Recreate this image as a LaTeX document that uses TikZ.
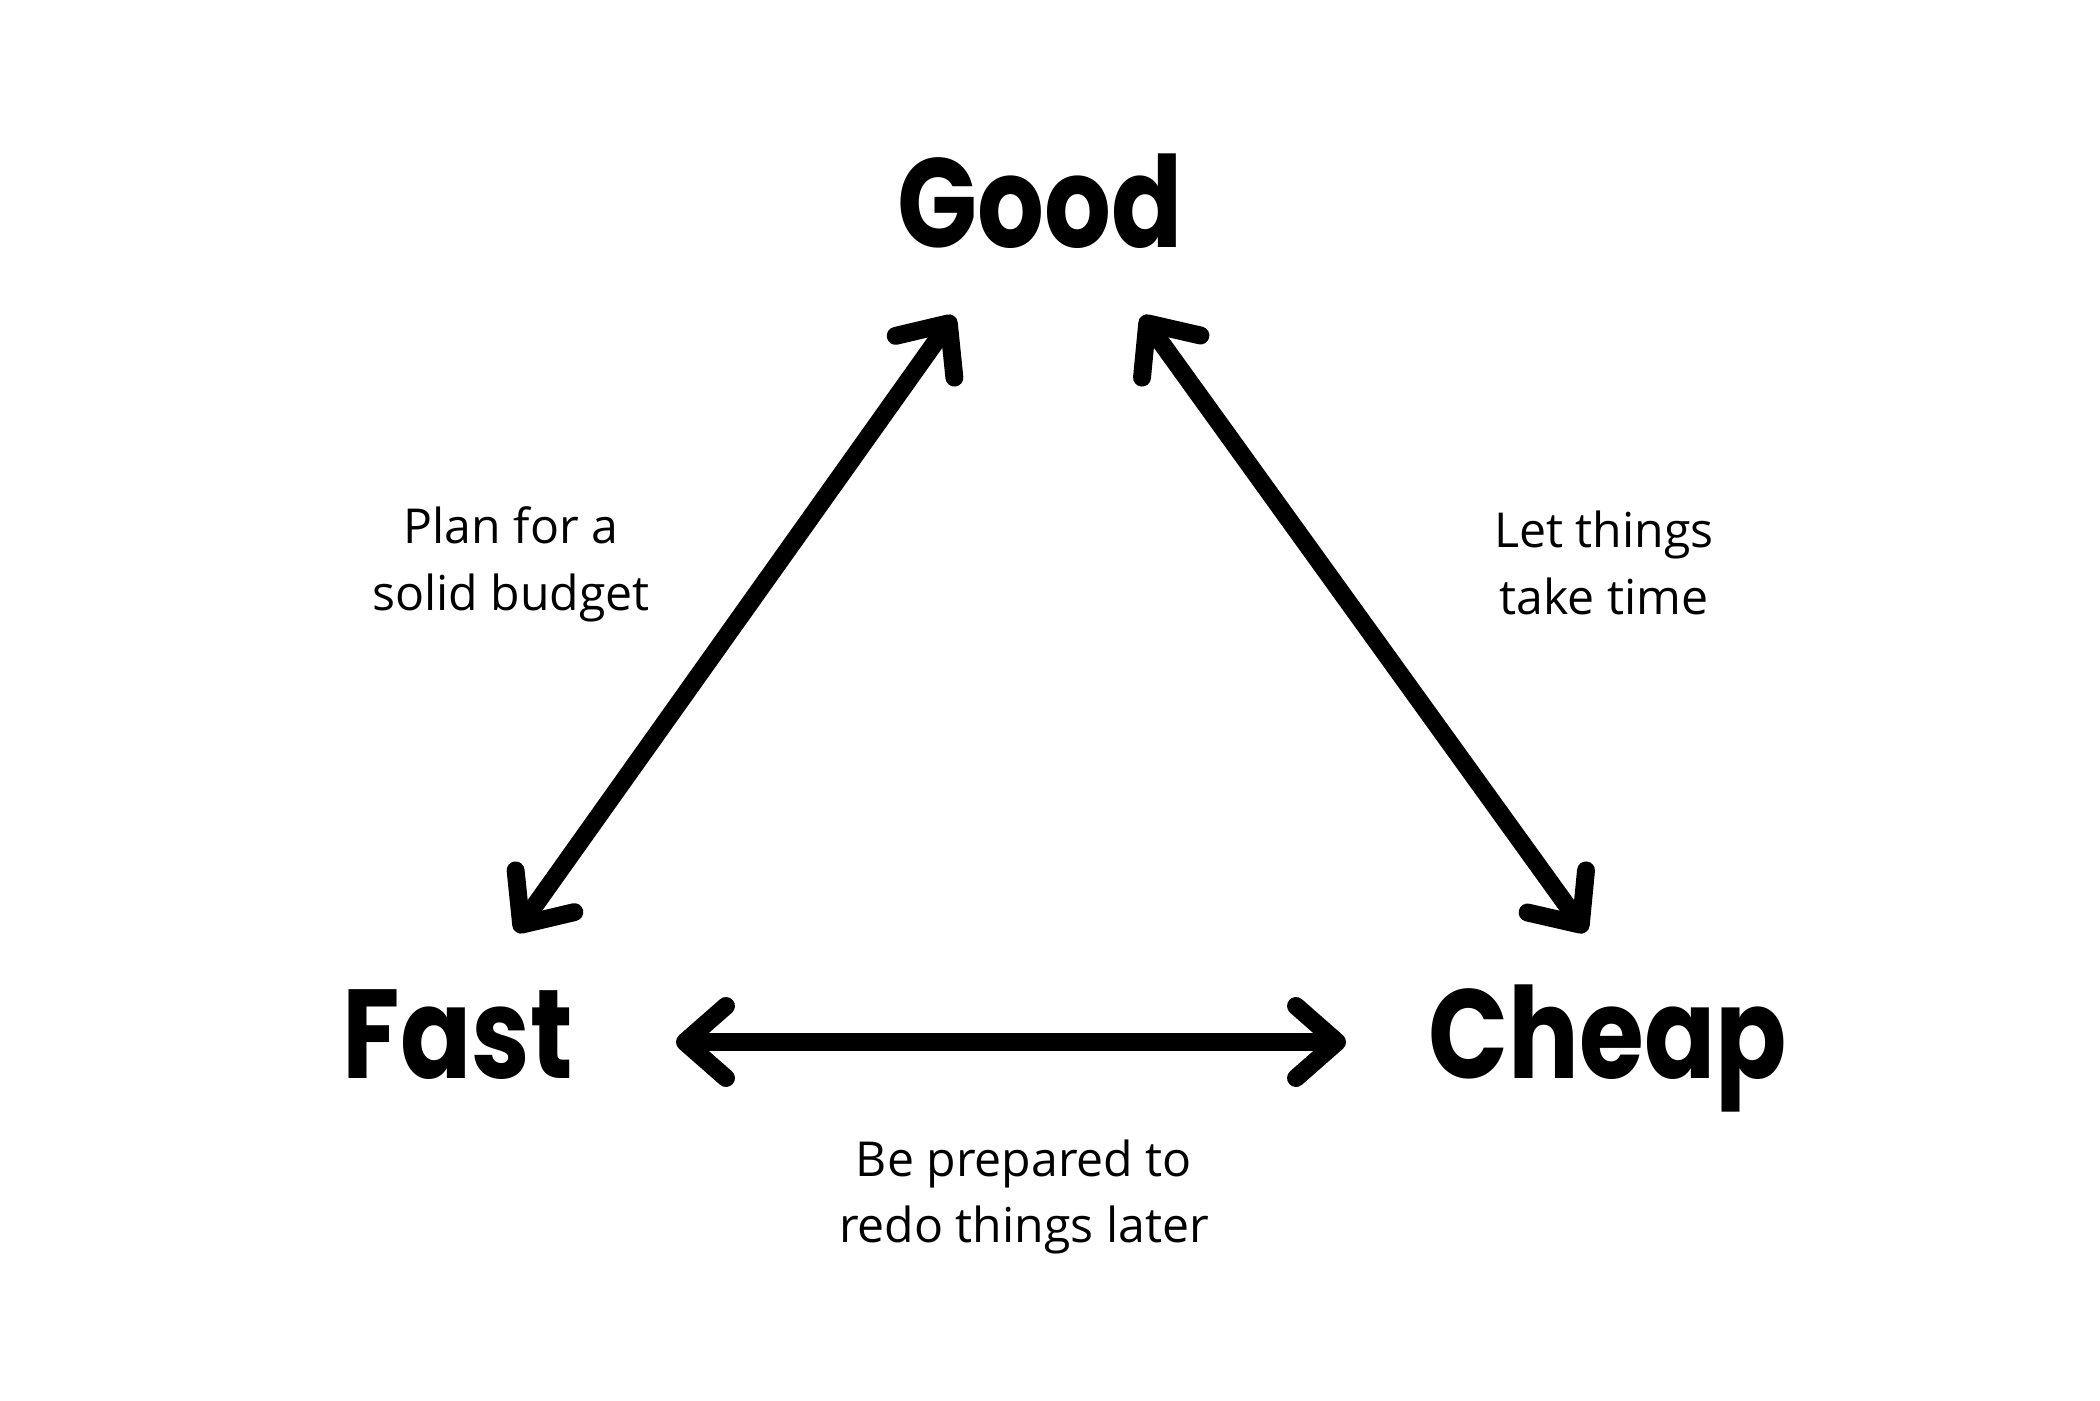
\documentclass[tikz,border=0pt]{standalone}
\usepackage{fontspec}
\setmainfont{Open Sans}
\newfontfamily\titlefont{Poppins}[FakeStretch=0.83]
\usetikzlibrary{arrows.meta}

\begin{document}
\begin{tikzpicture}[x=0.01cm, y=-0.01cm,
  >={Straight Barb[length=4.1mm, width=7.2mm, round]},
  corner/.style={font=\titlefont\bfseries\fontsize{36}{40}\selectfont, anchor=base, inner sep=0pt},
  note/.style={font=\fontsize{13.7}{19}\selectfont, align=center, inner sep=0pt},
  link/.style={<->, line width=5.1pt, line cap=round}]
%% page

\fill[white] (0,0) rectangle (2100,1400);
\useasboundingbox (0,0) rectangle (2100,1400);

%% corners
\node[corner] (good) at (1040, 248) {Good};
\node[corner] (fast) at (458, 1078) {Fast};
\node[corner] (cheap) at (1608, 1078) {Cheap};

%% arrow ends
\coordinate (good-l) at (954, 316);
\coordinate (good-r) at (1142, 316);
\coordinate (fast-u) at (516, 932);
\coordinate (fast-r) at (676, 1042);
\coordinate (cheap-u) at (1586, 932);
\coordinate (cheap-l) at (1346, 1042);

\draw[link] (good-l) -- (fast-u);
\draw[link] (good-r) -- (cheap-u);
\draw[link] (fast-r) -- (cheap-l);

%% trade-offs
\node[note] (budget) at (511, 564) {Plan for a\\solid budget};
\node[note] (time) at (1604, 563) {Let things\\take time};
\node[note] (redo) at (1024, 1197) {Be prepared to\\redo things later};

\end{tikzpicture}
\end{document}
